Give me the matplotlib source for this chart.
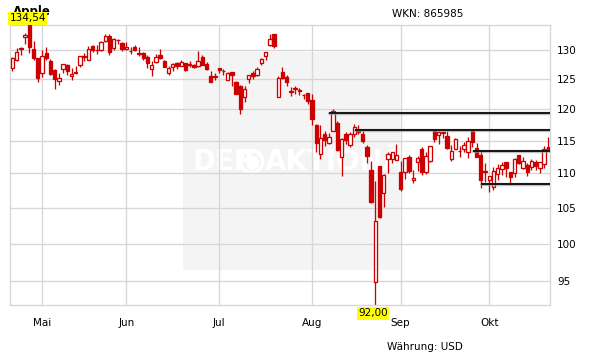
import matplotlib
matplotlib.use("Agg")
import matplotlib.pyplot as plt
from matplotlib.patches import Rectangle
from matplotlib.ticker import FixedLocator, NullLocator, NullFormatter
import pandas as pd

# ---------------- data ----------------
dates = [
    "2015-04-22", "2015-04-23", "2015-04-24", "2015-04-27", "2015-04-28", "2015-04-29", "2015-04-30",
    "2015-05-01", "2015-05-04", "2015-05-05", "2015-05-06", "2015-05-07", "2015-05-08", "2015-05-11",
    "2015-05-12", "2015-05-13", "2015-05-14", "2015-05-15", "2015-05-18", "2015-05-19", "2015-05-20",
    "2015-05-21", "2015-05-22", "2015-05-26", "2015-05-27", "2015-05-28", "2015-05-29",
    "2015-06-01", "2015-06-02", "2015-06-03", "2015-06-04", "2015-06-05", "2015-06-08", "2015-06-09",
    "2015-06-10", "2015-06-11", "2015-06-12", "2015-06-15", "2015-06-16", "2015-06-17", "2015-06-18",
    "2015-06-19", "2015-06-22", "2015-06-23", "2015-06-24", "2015-06-25", "2015-06-26", "2015-06-29",
    "2015-06-30",
    "2015-07-01", "2015-07-02", "2015-07-06", "2015-07-07", "2015-07-08", "2015-07-09", "2015-07-10",
    "2015-07-13", "2015-07-14", "2015-07-15", "2015-07-16", "2015-07-17", "2015-07-20", "2015-07-21",
    "2015-07-22", "2015-07-23", "2015-07-24", "2015-07-27", "2015-07-28", "2015-07-29", "2015-07-30",
    "2015-07-31",
    "2015-08-03", "2015-08-04", "2015-08-05", "2015-08-06", "2015-08-07", "2015-08-10", "2015-08-11",
    "2015-08-12", "2015-08-13", "2015-08-14", "2015-08-17", "2015-08-18", "2015-08-19", "2015-08-20",
    "2015-08-21", "2015-08-24", "2015-08-25", "2015-08-26", "2015-08-27", "2015-08-28", "2015-08-31",
    "2015-09-01", "2015-09-02", "2015-09-03", "2015-09-04", "2015-09-08", "2015-09-09", "2015-09-10",
    "2015-09-11", "2015-09-14", "2015-09-15", "2015-09-16", "2015-09-17", "2015-09-18", "2015-09-21",
    "2015-09-22", "2015-09-23", "2015-09-24", "2015-09-25", "2015-09-28", "2015-09-29", "2015-09-30",
    "2015-10-01", "2015-10-02", "2015-10-05", "2015-10-06", "2015-10-07", "2015-10-08", "2015-10-09",
    "2015-10-12", "2015-10-13", "2015-10-14", "2015-10-15", "2015-10-16", "2015-10-19", "2015-10-20",
    "2015-10-21",
]

opens = [
    126.99, 128.30, 130.49, 132.31, 134.46, 130.16, 128.64,
    126.10, 129.50, 128.15, 126.56, 124.77, 126.68, 127.39, 125.60, 126.15, 127.41, 129.07, 128.38,
    130.69, 130.00, 130.07, 131.60, 132.60, 130.34, 131.86, 131.23,
    130.28, 129.86, 130.66, 129.58, 129.50, 128.90, 126.70, 127.92, 129.18, 128.19, 126.10, 127.03,
    127.72, 127.23, 127.71, 127.49, 127.48, 127.21, 128.86, 127.67, 125.46, 125.57,
    126.90, 126.43, 124.94, 126.19, 124.48, 123.85, 121.94, 125.03, 126.04, 125.72, 127.74, 129.08,
    130.97, 132.85, 121.99, 126.20, 125.32, 123.09, 123.38, 123.15, 122.32, 122.60,
    121.50, 117.42, 112.95, 115.97, 114.58, 116.53, 117.81, 112.53, 116.04, 114.32, 116.04, 116.43,
    116.10, 114.08, 110.43, 94.87, 111.11, 107.09, 112.23, 112.17, 112.03,
    110.15, 110.23, 112.49, 108.97, 111.75, 113.76, 110.27, 111.79, 116.58, 115.93, 116.25, 115.66,
    112.21, 113.67, 113.38, 113.63, 113.25, 116.44, 113.85, 112.83, 110.17,
    109.07, 108.01, 109.88, 110.63, 111.74, 110.19, 110.00, 112.73, 110.82, 111.29, 110.93, 111.78,
    110.80, 111.34, 114.00,
]

highs = [
    128.87, 130.42, 130.63, 133.13, 134.54, 131.59, 128.64,
    130.13, 130.57, 128.45, 126.75, 126.08, 127.62, 127.56, 126.88, 127.19, 128.95, 129.49, 130.72,
    130.88, 130.98, 131.63, 132.97, 132.91, 132.26, 131.95, 131.45,
    131.39, 130.66, 130.94, 130.58, 129.69, 129.21, 128.08, 129.34, 130.18, 128.33, 127.24, 127.85,
    127.88, 128.31, 127.82, 128.06, 127.61, 129.80, 129.20, 127.99, 126.47, 126.12,
    126.94, 126.69, 126.23, 126.15, 124.64, 124.06, 123.85, 125.76, 126.37, 127.15, 128.57, 129.62,
    132.97, 132.92, 125.50, 127.09, 125.74, 123.61, 123.91, 123.50, 122.57, 122.64,
    122.57, 117.70, 117.44, 116.50, 116.25, 119.99, 118.18, 115.42, 116.40, 116.31, 117.65, 117.44,
    116.52, 114.35, 111.90, 108.80, 111.11, 109.89, 113.24, 113.31, 114.53,
    111.88, 112.34, 112.78, 110.45, 112.56, 114.02, 113.28, 114.21, 116.89, 116.53, 116.54, 116.49,
    114.30, 115.37, 114.18, 114.72, 115.50, 116.69, 114.57, 113.51, 111.54,
    109.62, 111.01, 111.37, 111.74, 111.77, 110.19, 112.28, 112.75, 112.45, 111.52, 112.10, 112.00,
    111.75, 114.17, 115.58,
]

lows = [
    126.32, 128.14, 129.23, 131.15, 129.57, 128.30, 124.58,
    125.30, 128.26, 125.78, 123.36, 124.02, 126.11, 125.63, 124.82, 125.87, 127.16, 128.21, 128.36,
    129.64, 129.34, 129.83, 131.40, 129.12, 130.05, 131.10, 129.90,
    130.05, 129.32, 129.90, 128.91, 128.36, 126.83, 125.62, 127.85, 128.48, 127.11, 125.71, 126.37,
    126.74, 127.22, 126.40, 127.08, 126.88, 127.12, 127.50, 126.51, 124.48, 124.86,
    125.99, 125.77, 124.85, 123.77, 122.54, 119.22, 121.21, 124.32, 125.04, 125.58, 127.35, 128.31,
    130.70, 130.32, 121.99, 125.06, 123.90, 122.12, 122.55, 122.27, 121.71, 120.91,
    117.52, 113.25, 112.10, 114.12, 114.50, 116.53, 113.33, 109.63, 114.54, 114.01, 115.50, 116.01,
    114.68, 111.63, 105.65, 92.00, 103.50, 105.05, 110.02, 111.54, 112.00,
    107.36, 109.13, 110.04, 108.51, 110.32, 109.77, 109.90, 111.76, 114.86, 114.42, 115.44, 113.72,
    111.87, 113.66, 112.52, 113.30, 112.37, 114.02, 112.44, 107.86, 108.73,
    107.31, 107.55, 109.07, 109.77, 109.41, 108.21, 109.49, 111.44, 110.68, 109.56, 110.49, 110.53,
    110.11, 110.82, 113.70,
]

closes = [
    128.62, 129.67, 130.28, 132.65, 130.56, 128.64, 125.15,
    128.95, 128.70, 125.80, 125.01, 125.26, 127.62, 126.32, 125.87, 126.01, 128.95, 128.77, 130.19,
    130.07, 130.06, 131.39, 132.54, 129.62, 132.04, 131.78, 130.28,
    130.54, 129.96, 130.12, 129.36, 128.65, 127.80, 127.42, 128.88, 128.59, 127.17, 126.92, 127.60,
    127.30, 127.88, 126.60, 127.61, 127.03, 128.11, 127.50, 126.75, 124.53, 125.43,
    126.60, 126.44, 126.00, 125.69, 122.57, 120.07, 123.28, 125.66, 125.61, 126.82, 128.51, 129.62,
    132.07, 130.75, 125.22, 125.16, 124.50, 122.77, 123.38, 122.99, 122.37, 121.30,
    118.44, 114.64, 115.40, 115.13, 115.52, 119.72, 113.49, 115.24, 115.15, 115.96, 117.16, 116.50,
    115.01, 112.65, 105.76, 103.12, 103.74, 109.69, 112.92, 113.29, 112.76,
    107.72, 112.34, 110.37, 109.27, 112.31, 110.15, 112.57, 114.21, 115.31, 116.28, 116.41, 113.92,
    113.45, 115.21, 113.40, 114.32, 115.00, 114.71, 112.44, 109.06, 110.30,
    109.58, 110.38, 110.78, 111.31, 110.78, 109.50, 112.12, 111.60, 111.79, 110.21, 111.86, 111.04,
    111.73, 113.77, 113.76,
]

month_labels = ["Mai", "Jun", "Jul", "Aug", "Sep", "Okt"]
y_ticks = [95, 100, 105, 110, 115, 120, 125, 130]
y_tick_labels = ["95", "100", "105", "110", "115", "120", "125", "130"]

# horizontal support / resistance lines: level and start date
level_values = [119.4, 116.6, 113.4, 108.35]
level_starts = ["2015-08-07", "2015-08-17", "2015-09-25", "2015-09-29"]

high_label = "134,54"
low_label = "92,00"
title = "Apple"
wkn_text = "WKN: 865985"
currency_text = "Währung: USD"
watermark_left = "DER"
watermark_right = "AKTIONÄR"

# ---------------- figure ----------------
W, H = 611, 364
fig = plt.figure(figsize=(W / 100, H / 100), dpi=100)
fig.patch.set_facecolor("white")

ax_l, ax_r, ax_t, ax_b = 10, 550, 25, 305
ax = fig.add_axes([ax_l / W, 1 - ax_b / H, (ax_r - ax_l) / W, (ax_b - ax_t) / H])
ax.set_facecolor("white")

dt = pd.to_datetime(dates)
n = len(dates)
idx = list(range(n))

RED = "#cc0000"
GRID = "#d6d6d6"
PX = 0.72  # one pixel in points

ax.set_yscale("log")
ax.set_ylim(min(lows), max(highs))
ax.set_xlim(-0.58, n - 1 + 0.4)

# watermark background
ax.add_patch(Rectangle((0.3204, 0.125), 0.7222 - 0.3204, 0.9036 - 0.125,
                       transform=ax.transAxes, facecolor="#f4f4f4",
                       edgecolor="none", zorder=0.1))
ax.text(0.338, 0.512, watermark_left, transform=ax.transAxes, color="white",
        fontsize=20, fontweight="bold", va="center", ha="left",
        family=["Liberation Sans Narrow", "DejaVu Sans"], zorder=0.2)
ax.scatter([0.4476], [0.512], s=250, facecolor="none", edgecolor="white",
           linewidths=2.5, transform=ax.transAxes, zorder=0.2)
ax.scatter([0.4476], [0.512], s=90, color="white", transform=ax.transAxes,
           zorder=0.2, linewidths=0)
ax.text(0.4722, 0.512, watermark_right, transform=ax.transAxes, color="white",
        fontsize=20, fontweight="bold", va="center", ha="left",
        family=["Liberation Sans Narrow", "DejaVu Sans"], zorder=0.2)

# grid
ax.set_axisbelow(True)
ax.yaxis.set_major_locator(FixedLocator(y_ticks))
ax.yaxis.set_minor_locator(NullLocator())
ax.yaxis.set_minor_formatter(NullFormatter())
ax.set_yticklabels(y_tick_labels)

month_pos = []
seen = set()
for i, d in enumerate(dt):
    key = (d.year, d.month)
    if key not in seen:
        seen.add(key)
        if i > 0:
            month_pos.append(i)
ax.set_xticks(month_pos)
ax.set_xticklabels(month_labels[:len(month_pos)])

ax.grid(True, color=GRID, linewidth=1.3 * PX)
for s in ax.spines.values():
    s.set_color(GRID)
    s.set_linewidth(1.3 * PX)

ax.tick_params(axis="y", which="both", length=0, left=False, right=False,
               labelleft=False, labelright=True, pad=5, labelsize=7.5)
ax.tick_params(axis="x", length=0, pad=9.5, labelsize=7.5)

# candles
bw = 0.8
for i, o, h, l, c in zip(idx, opens, highs, lows, closes):
    ax.plot([i, i], [l, h], color=RED, linewidth=1.3 * PX, zorder=2,
            solid_capstyle="butt")
    lo_b, hi_b = min(o, c), max(o, c)
    if hi_b - lo_b < 0.05:
        hi_b = lo_b + 0.05
    up = c >= o
    ax.add_patch(Rectangle((i - bw / 2, lo_b), bw, hi_b - lo_b,
                           facecolor="white" if up else RED,
                           edgecolor=RED, linewidth=1.3 * PX, zorder=3))

# horizontal levels
x_right = n - 1 + 0.4
for lv, st in zip(level_values, level_starts):
    i0 = dates.index(st) + 0.1
    ax.plot([i0, x_right], [lv, lv], color="#999999", linewidth=3.4 * PX,
            alpha=0.6, zorder=4, solid_capstyle="round")
    ax.plot([i0, x_right], [lv, lv], color="#111111", linewidth=1.9 * PX,
            zorder=5, solid_capstyle="butt")

# high / low labels
i_hi = highs.index(max(highs))
i_lo = lows.index(min(lows))
ax.annotate(high_label, xy=(i_hi - 0.35, max(highs)), xytext=(0, 1.2),
            textcoords="offset points", ha="center", va="bottom", fontsize=7.5,
            color="black", annotation_clip=False, zorder=10,
            bbox=dict(boxstyle="square,pad=0.12", fc="#ffff00", ec="none"))
ax.annotate(low_label, xy=(i_lo - 0.45, min(lows)), xytext=(0, -2.4),
            textcoords="offset points", ha="center", va="top", fontsize=7.5,
            color="black", annotation_clip=False, zorder=10,
            bbox=dict(boxstyle="square,pad=0.12", fc="#ffff00", ec="none"))

# title (partly hidden by the yellow high label, as in the original)
ax.text((13 - ax_l) / (ax_r - ax_l), 1 + (ax_t - 4.5) / (ax_b - ax_t), title,
        transform=ax.transAxes, ha="left", va="top", fontsize=8.5,
        fontweight="bold", color="black", clip_on=False, zorder=9)

fig.text(391.5 / W, 1 - 14 / H, wkn_text, ha="left", va="center",
         fontsize=7.5, color="black")
fig.text(387 / W, 1 - 347 / H, currency_text, ha="left", va="center",
         fontsize=7.5, color="black")

fig.savefig("out.png", dpi=100, facecolor="white")
